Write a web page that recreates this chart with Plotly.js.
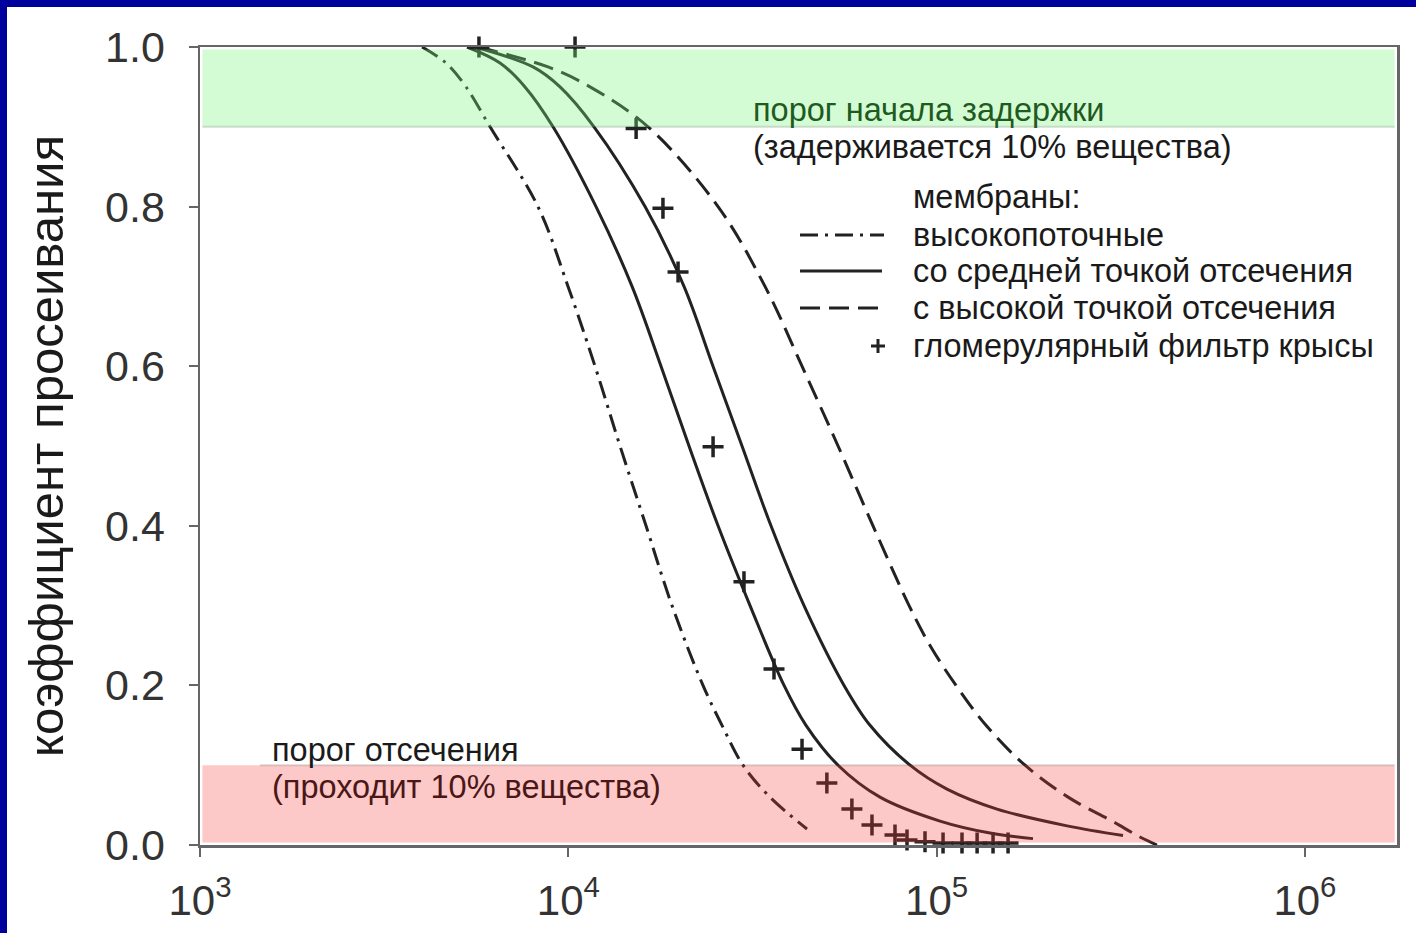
<!DOCTYPE html>
<html><head><meta charset="utf-8">
<script src="https://cdn.plot.ly/plotly-3.0.1.min.js"></script>
<style>
html,body{margin:0;padding:0;background:#00009c;width:1416px;height:933px;overflow:hidden;}
#chart{position:absolute;left:7px;top:7px;width:1409px;height:926px;background:#fff;}
</style>
</head><body><div id="chart"></div>
<script>
// Molecular weight (Da) vs sieving coefficient
const highFluxX = [4007, 4655, 5276, 6131, 8272, 9982, 11816, 13817, 16255, 19124, 23211, 26141, 29808, 35278, 44475];
const highFluxY = [1.0, 0.98, 0.95, 0.9, 0.8, 0.7, 0.6, 0.5, 0.4, 0.3, 0.2, 0.15, 0.1, 0.06, 0.02];

const midCutX = [5309, 6525, 7627, 9089, 11890, 14894, 17853, 21267, 25501, 31147, 38525, 44198, 54000, 70194, 102140, 139640, 182670];
const midCutY = [1.0, 0.98, 0.95, 0.9, 0.8, 0.7, 0.6, 0.5, 0.4, 0.3, 0.2, 0.15, 0.1, 0.06, 0.03, 0.015, 0.008];

const midCut2X = [5580, 8022, 9495, 11742, 16155, 20611, 24707, 29623, 35507, 43652, 56064, 65950, 84710, 106710, 145880, 226050, 320680];
const midCut2Y = [1.0, 0.975, 0.95, 0.9, 0.8, 0.7, 0.6, 0.5, 0.4, 0.3, 0.2, 0.15, 0.1, 0.07, 0.045, 0.024, 0.012];

const highCutX = [5685, 8809, 11453, 16459, 25501, 34203, 43102, 54000, 67186, 84189, 95960, 112900, 136180, 173780, 227470, 299380, 356630, 396650];
const highCutY = [1.0, 0.975, 0.95, 0.9, 0.8, 0.7, 0.6, 0.5, 0.4, 0.3, 0.25, 0.2, 0.15, 0.1, 0.06, 0.03, 0.01, 0.0];

const ratX = [5720, 10430, 15280, 18070, 19860, 24720, 29990, 36180, 43110, 50350, 58880, 66760, 77090, 83100, 93000, 104100, 117200, 128800, 142300, 156300];
const ratY = [1.0, 1.0, 0.898, 0.798, 0.718, 0.499, 0.330, 0.2206, 0.120, 0.0777, 0.0451, 0.025, 0.0125, 0.0063, 0.004, 0.0025, 0.0025, 0.0025, 0.0025, 0.0025];

const xTickVals = [1000, 10000, 100000, 1000000];
const xTickText = ['10<sup>3</sup>', '10<sup>4</sup>', '10<sup>5</sup>', '10<sup>6</sup>'];
const yTickVals = [0, 0.2, 0.4, 0.6, 0.8, 1.0];

const legendTitle = 'мембраны:';
const legendNames = ['высокопоточные', 'со средней точкой отсечения', 'с высокой точкой отсечения', 'гломерулярный фильтр крысы'];
const yTitle = 'коэффициент просеивания';

const FONT = 'Liberation Sans, Arial, sans-serif';
const LC = '#222';
const dashDot = '18px,7px,3px,7px';
const dashed = '20px,9px';

const lineStyle = (dash) => ({color: LC, width: 3, dash: dash, shape: 'spline', smoothing: 1});
const traces = [
  {x: highFluxX, y: highFluxY, mode: 'lines', line: lineStyle(dashDot), name: legendNames[0]},
  {x: midCutX, y: midCutY, mode: 'lines', line: lineStyle('solid'), name: legendNames[1]},
  {x: midCut2X, y: midCut2Y, mode: 'lines', line: lineStyle('solid'), name: legendNames[1]},
  {x: highCutX, y: highCutY, mode: 'lines', line: lineStyle(dashed), name: legendNames[2]},
  {x: ratX, y: ratY, mode: 'markers', marker: {symbol: 'cross-thin', size: 15, line: {color: LC, width: 3.5}}, cliponaxis: false, name: legendNames[3]}
];

// paper coordinate helpers for layout elements (plot area: 200..1397 x 47..845 on page)
const px = v => (v - 200) / 1197;
const py = v => (845 - v) / 798;

const shapes = [
  {type: 'rect', xref: 'paper', yref: 'y', x0: 0.002, x1: 0.998, y0: 0.9, y1: 0.997, fillcolor: 'rgb(123,246,123)', opacity: 0.33, line: {width: 0}, layer: 'above'},
  {type: 'rect', xref: 'paper', yref: 'y', x0: 0.002, x1: 0.998, y0: 0.003, y1: 0.1, fillcolor: 'rgb(243,55,55)', opacity: 0.275, line: {width: 0}, layer: 'above'},
  {type: 'line', xref: 'paper', yref: 'y', x0: 0.002, x1: 0.998, y0: 0.9, y1: 0.9, line: {color: '#d8d8d8', width: 2}, layer: 'below'},
  {type: 'line', xref: 'paper', yref: 'y', x0: 0.05, x1: 0.998, y0: 0.1, y1: 0.1, line: {color: '#d8d8d8', width: 2}, layer: 'below'},
  // legend samples
  {type: 'line', xref: 'paper', yref: 'paper', x0: px(800), x1: px(884), y0: py(235), y1: py(235), line: {color: LC, width: 3, dash: dashDot}},
  {type: 'line', xref: 'paper', yref: 'paper', x0: px(800), x1: px(882), y0: py(271), y1: py(271), line: {color: LC, width: 3}},
  {type: 'line', xref: 'paper', yref: 'paper', x0: px(800), x1: px(884), y0: py(308), y1: py(308), line: {color: LC, width: 3, dash: dashed}},
  {type: 'line', xref: 'paper', yref: 'paper', x0: px(871), x1: px(885), y0: py(346), y1: py(346), line: {color: LC, width: 3}},
  {type: 'line', xref: 'paper', yref: 'paper', x0: px(878), x1: px(878), y0: py(339), y1: py(353), line: {color: LC, width: 3}}
];

const FS = 32.5;
const annFont = {family: FONT, size: FS, color: '#1a1a1a'};
const ann = (x, y, text, font) => ({xref: 'paper', yref: 'paper', x: px(x), y: py(y), xanchor: 'left', yanchor: 'middle', showarrow: false, text: text, font: font || annFont});
const annotations = [
  ann(751, 110, 'порог начала задержки', {family: FONT, size: FS, color: '#1f5a1f'}),
  ann(751, 147, '(задерживается 10% вещества)'),
  ann(270, 750, 'порог отсечения'),
  ann(270, 787, '(проходит 10% вещества)', {family: FONT, size: FS, color: '#4a1616'}),
  ann(911, 197, legendTitle),
  ann(911, 235, legendNames[0]),
  ann(911, 271, legendNames[1]),
  ann(911, 308, legendNames[2]),
  ann(911, 346, legendNames[3])
];

const layout = {
  width: 1409, height: 926,
  margin: {l: 193, r: 19, t: 40, b: 88},
  paper_bgcolor: '#ffffff', plot_bgcolor: '#ffffff',
  showlegend: false,
  font: {family: FONT, color: '#333'},
  xaxis: {
    type: 'log', range: [3, 6.25], tickvals: xTickVals, ticktext: xTickText,
    showgrid: false, zeroline: false, showline: true, linecolor: '#666', linewidth: 2.5, mirror: true,
    ticks: 'outside', ticklen: 9, tickwidth: 2, tickcolor: '#666',
    tickfont: {family: FONT, size: 42, color: '#333'}, ticklabelstandoff: 8
  },
  yaxis: {
    range: [0, 1], tickvals: yTickVals, tickformat: '.1f',
    showgrid: false, zeroline: false, showline: true, linecolor: '#666', linewidth: 2.5, mirror: true,
    ticks: 'outside', ticklen: 9, tickwidth: 2, tickcolor: '#666',
    tickfont: {family: FONT, size: 43, color: '#333'}, ticklabelstandoff: 15,
    title: {text: yTitle, font: {family: FONT, size: 49, color: '#1a1a1a'}, standoff: 26}
  },
  shapes: shapes,
  annotations: annotations
};

Plotly.newPlot('chart', traces, layout, {displayModeBar: false, staticPlot: true});
</script>
</body></html>
